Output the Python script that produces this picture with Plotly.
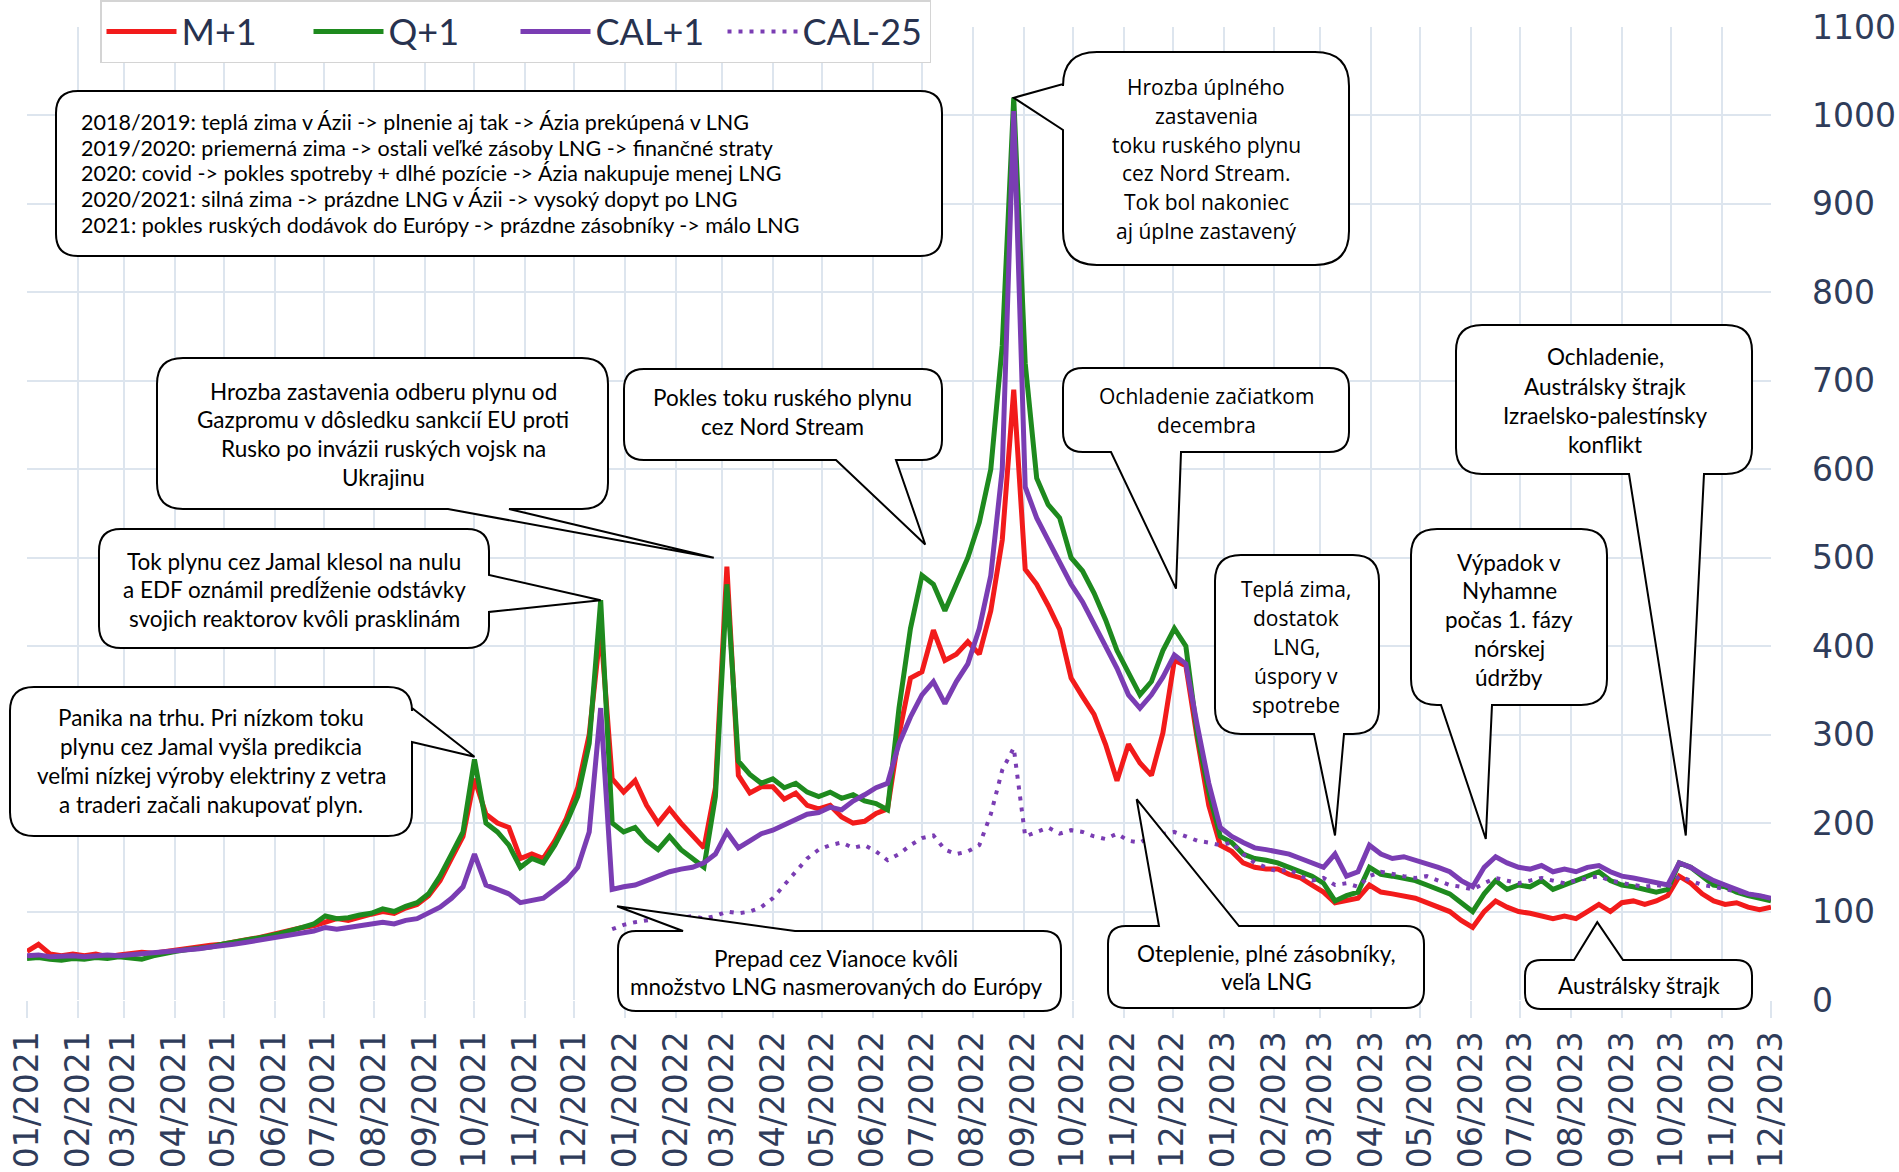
import pandas as pd
import plotly.graph_objects as go

# weekly points, 2021-01-01 .. 2023-12-01
weeks = pd.date_range("2021-01-01", "2023-12-01", freq="7D")

# M+1 (EUR/MWh)
m1 = [55, 63, 52, 50, 52, 50, 52, 49, 51, 52, 54, 53, 55,
      57, 58, 60, 62, 63, 66, 68, 70, 73, 76, 80, 82, 84,
      88, 92, 90, 94, 97, 100, 98, 104, 108, 118, 135, 160, 185,
      250, 210, 200, 195, 160, 165, 160, 180, 205, 240, 300, 420, 250,
      235, 248, 220, 200, 216, 200, 186, 172, 240, 490, 254, 234, 241,
      241, 227, 234, 220, 216, 220, 207, 200, 202, 211, 216, 300, 364,
      371, 418, 384, 391, 405, 391, 440, 520, 690, 487, 470, 446, 419,
      364, 343, 323, 289, 248, 289, 268, 254, 302, 384, 378, 295, 220,
      175, 168, 155, 150, 148, 148, 142, 138, 130, 122, 110, 112, 115, 130,
      122, 120, 118, 115, 110, 105, 100, 90, 82, 100, 112, 105,
      100, 98, 95, 92, 95, 92, 100, 108, 100, 110, 112, 108, 112,
      118, 140, 132, 120, 112, 108, 110, 105, 102, 105]

# Q+1
q1 = [47, 48, 46, 45, 47, 46, 48, 47, 49, 48, 46, 50, 53,
      55, 57, 58, 60, 63, 65, 67, 70, 72, 75, 78, 82, 86,
      95, 92, 93, 96, 98, 103, 100, 106, 110, 120, 140, 165, 190,
      272, 200, 190, 175, 150, 160, 155, 175, 200, 230, 290, 452, 200,
      190, 195, 180, 170, 185, 170, 160, 150, 230, 470, 270, 255, 245,
      250, 240, 245, 235, 230, 235, 228, 232, 225, 222, 215, 330, 420,
      480, 470, 440, 470, 500, 540, 600, 740, 1020, 720, 590, 560, 545,
      500, 485, 460, 430, 395, 370, 345, 360, 395, 420, 400, 300, 235,
      185, 178, 165, 160, 158, 155, 150, 145, 140, 132, 112, 118, 122, 150,
      142, 140, 138, 135, 130, 125, 120, 110, 100, 120, 135, 125,
      130, 128, 135, 125, 130, 135, 140, 145, 135, 130, 128, 125, 122,
      125, 155, 150, 140, 130, 128, 122, 118, 115, 112]

# CAL+1
cal1 = [50, 51, 49, 50, 50, 49, 50, 51, 50, 51, 52, 53, 54,
        55, 57, 58, 60, 61, 63, 65, 67, 70, 72, 74, 76, 78,
        82, 80, 82, 84, 86, 88, 86, 90, 92, 98, 105, 115, 128,
        165, 130, 125, 120, 110, 112, 115, 125, 135, 150, 190, 330, 125,
        128, 130, 135, 140, 145, 148, 150, 155, 165, 190, 172, 180, 188,
        192, 198, 205, 210, 212, 218, 215, 225, 232, 240, 245, 290, 320,
        345, 360, 335, 360, 380, 420, 480, 600, 1005, 580, 545, 520, 495,
        470, 450, 425, 400, 375, 345, 330, 345, 365, 390, 380, 310, 245,
        195, 185, 178, 172, 170, 168, 165, 160, 155, 150, 165, 140, 145, 175,
        165, 160, 162, 158, 155, 150, 145, 135, 128, 150, 162, 155,
        150, 148, 152, 145, 148, 145, 150, 152, 145, 140, 138, 135, 132,
        130, 155, 150, 142, 135, 130, 125, 120, 118, 115]

# CAL-25, from the last week of 2021
cal25_dates = weeks[51:]
cal25 = [80,
         85, 88, 90, 92, 90, 93, 95, 92, 95, 100, 98, 100, 105,
         115, 130, 145, 160, 170, 175, 178, 172, 175, 168, 158, 165, 175,
         183, 186, 170, 165, 168, 175, 210, 260, 285, 185, 190, 195, 188,
         192, 190, 185, 182, 188, 180, 178, 185, 188, 190, 185, 180, 178,
         175, 178, 165, 155, 150, 145, 148, 140, 135, 138, 130, 132, 128, 140,
         145, 142, 140, 138, 140, 135, 130, 128, 125, 132, 138, 135,
         132, 135, 138, 135, 132, 135, 138, 140, 135, 132, 130, 128, 130,
         128, 140, 135, 130, 128, 125, 122, 120, 118, 115]

series = [("M+1", m1, "#f21b1b"),
          ("Q+1", q1, "#1e8a1e"),
          ("CAL+1", cal1, "#7a3db3")]

tick_months = pd.date_range("2021-01-01", "2023-12-01", freq="MS")
tick_text = [d.strftime("%m/%Y") for d in tick_months]

# figure geometry (pixels)
FW, FH = 1899, 1172
ML, MR, MT, MB = 27, 128, 27, 172
PW, PH = FW - ML - MR, FH - MT - MB
X0, X1 = pd.Timestamp("2021-01-01"), pd.Timestamp("2023-12-01")
YMAX = 1100


def to_paper(px, py):
    return (px - ML) / PW, (MT + PH - py) / PH


def data_px(date, val):
    px = ML + (pd.Timestamp(date) - X0) / (X1 - X0) * PW
    py = MT + PH - val / YMAX * PH
    return px, py


def bubble_path(x0, y0, x1, y1, r, tail):
    def P(x, y):
        fx, fy = to_paper(x, y)
        return f"{fx:.5f},{fy:.5f}"
    edge, a, b, tip = tail if tail else (None, 0, 0, None)
    if tip is not None:
        tx, ty = data_px(*tip)
    s = f"M{P(x0 + r, y0)}"
    if edge == "top":
        s += f" L{P(a, y0)} L{P(tx, ty)} L{P(b, y0)}"
    s += f" L{P(x1 - r, y0)} Q{P(x1, y0)} {P(x1, y0 + r)}"
    if edge == "right":
        s += f" L{P(x1, a)} L{P(tx, ty)} L{P(x1, b)}"
    s += f" L{P(x1, y1 - r)} Q{P(x1, y1)} {P(x1 - r, y1)}"
    if edge == "bottom":
        s += f" L{P(b, y1)} L{P(tx, ty)} L{P(a, y1)}"
    s += f" L{P(x0 + r, y1)} Q{P(x0, y1)} {P(x0, y1 - r)}"
    if edge == "left":
        s += f" L{P(x0, b)} L{P(tx, ty)} L{P(x0, a)}"
    s += f" L{P(x0, y0 + r)} Q{P(x0, y0)} {P(x0 + r, y0)} Z"
    return s


CAL = "Lato, Calibri, sans-serif"
SEG = "Open Sans, Segoe UI, sans-serif"

callouts = [
    dict(box=(56, 91, 942, 256), r=22, tail=None, x=79, y=122, dy=25.7, font=CAL, size=21.5, align="left",
         lines=["2018/2019: teplá zima v Ázii -> plnenie aj tak -> Ázia prekúpená v LNG",
                "2019/2020: priemerná zima -> ostali veľké zásoby LNG -> finančné straty",
                "2020: covid -> pokles spotreby + dlhé pozície -> Ázia nakupuje menej LNG",
                "2020/2021: silná zima -> prázdne LNG v Ázii -> vysoký dopyt po LNG",
                "2021: pokles ruských dodávok do Európy -> prázdne zásobníky -> málo LNG"]),
    dict(box=(1063, 52, 1349, 265), r=34, tail=("left", 84, 130, ("2022-08-26", 1020)),
         x=1206, y=87, dy=28.8, font=SEG, size=21,
         lines=["Hrozba úplného", "zastavenia", "toku ruského plynu", "cez Nord Stream.",
                "Tok bol nakoniec", "aj úplne zastavený"]),
    dict(box=(157, 358, 608, 509), r=26, tail=("bottom", 448, 509, ("2022-02-24", 500)),
         x=383, y=391, dy=28.7, font=CAL, size=22.5,
         lines=["Hrozba zastavenia odberu plynu od", "Gazpromu v dôsledku sankcií EU proti",
                "Rusko po invázii ruských vojsk na", "Ukrajinu"]),
    dict(box=(99, 529, 489, 648), r=22, tail=("right", 575, 612, ("2021-12-17", 452)),
         x=294, y=561, dy=28.5, font=CAL, size=22.5,
         lines=["Tok plynu cez Jamal klesol na nulu", "a EDF oznámil predĺženie odstávky",
                "svojich reaktorov kvôli prasklinám"]),
    dict(box=(10, 687, 412, 836), r=24, tail=("right", 708, 742, ("2021-10-01", 275)),
         x=211, y=717, dy=29, font=CAL, size=22.5,
         lines=["Panika na trhu. Pri nízkom toku", "plynu cez Jamal vyšla predikcia",
                "veľmi nízkej výroby elektriny z vetra", "a traderi začali nakupovať plyn."]),
    dict(box=(624, 369, 942, 460), r=20, tail=("bottom", 836, 896, ("2022-07-03", 515)),
         x=782, y=398, dy=29, font=CAL, size=22.5,
         lines=["Pokles toku ruského plynu", "cez Nord Stream"]),
    dict(box=(1063, 368, 1349, 452), r=20, tail=("bottom", 1111, 1181, ("2022-12-03", 465)),
         x=1206, y=396, dy=29, font=SEG, size=21,
         lines=["Ochladenie začiatkom", "decembra"]),
    dict(box=(1215, 555, 1379, 734), r=26, tail=("bottom", 1314, 1344, ("2023-03-10", 186)),
         x=1296, y=589, dy=29, font=SEG, size=21,
         lines=["Teplá zima,", "dostatok", "LNG,", "úspory v", "spotrebe"]),
    dict(box=(1411, 529, 1607, 705), r=26, tail=("bottom", 1441, 1492, ("2023-06-10", 182)),
         x=1509, y=562, dy=28.8, font=CAL, size=22.5,
         lines=["Výpadok v", "Nyhamne", "počas 1. fázy", "nórskej", "údržby"]),
    dict(box=(1456, 325, 1752, 474), r=26, tail=("bottom", 1629, 1704, ("2023-10-10", 186)),
         x=1605, y=357, dy=29, font=CAL, size=22.5,
         lines=["Ochladenie,", "Austrálsky štrajk", "Izraelsko-palestínsky", "konflikt"]),
    dict(box=(618, 931, 1061, 1011), r=18, tail=("top", 683, 795, ("2021-12-27", 106)),
         x=836, y=958, dy=28, font=CAL, size=22.5,
         lines=["Prepad cez Vianoce kvôli", "množstvo LNG nasmerovaných do Európy"]),
    dict(box=(1108, 926, 1424, 1008), r=18, tail=("top", 1159, 1239, ("2022-11-09", 227)),
         x=1266, y=953, dy=28, font=CAL, size=22.5,
         lines=["Oteplenie, plné zásobníky,", "veľa LNG"]),
    dict(box=(1525, 960, 1752, 1009), r=16, tail=("top", 1574, 1623, ("2023-08-17", 88)),
         x=1639, y=985, dy=28, font=CAL, size=22.5,
         lines=["Austrálsky štrajk"]),
]

fig = go.Figure()
for name, vals, color in series:
    fig.add_trace(go.Scatter(x=weeks, y=vals, name=name, mode="lines",
                             line=dict(color=color, width=5)))
fig.add_trace(go.Scatter(x=cal25_dates, y=cal25, name="CAL-25", mode="lines",
                         line=dict(color="#7a3db3", width=4, dash="4px,7px")))

shapes = []
annotations = []
for c in callouts:
    x0, y0, x1, y1 = c["box"]
    shapes.append(dict(type="path", xref="paper", yref="paper",
                       path=bubble_path(x0, y0, x1, y1, c["r"], c["tail"]),
                       line=dict(color="black", width=2), fillcolor="white", layer="above"))
    for i, t in enumerate(c["lines"]):
        fx, fy = to_paper(c["x"], c["y"] + i * c["dy"])
        annotations.append(dict(text=t, xref="paper", yref="paper", x=fx, y=fy,
                                xanchor="left" if c.get("align") == "left" else "center",
                                yanchor="middle", showarrow=False,
                                font=dict(family=c["font"], size=c["size"], color="black")))

axis_font = dict(family="DejaVu Sans, Verdana, sans-serif", size=33, color="#2f3c5a")
grid = "#dde5ee"

fig.update_layout(
    width=FW, height=FH,
    margin=dict(l=ML, r=MR, t=MT, b=MB, autoexpand=False),
    paper_bgcolor="white", plot_bgcolor="white",
    shapes=shapes, annotations=annotations,
    legend=dict(orientation="h", x=(100 - ML) / PW, xanchor="left", y=(MT + PH) / PH, yanchor="top",
                bgcolor="white", bordercolor="#d4d4d4", borderwidth=1.5,
                font=dict(family="Lato, Calibri, sans-serif", size=36, color="#27324f"),
                itemwidth=70, entrywidth=122, entrywidthmode="pixels"),
    xaxis=dict(range=[X0, X1], tickvals=list(tick_months), ticktext=tick_text, tickangle=-90,
               tickfont=axis_font, showgrid=True, gridcolor=grid, gridwidth=2,
               ticks="outside", ticklen=17, tickwidth=2, tickcolor=grid,
               showline=False, zeroline=False),
    yaxis=dict(range=[0, YMAX], dtick=100, side="right", tickfont=axis_font,
               showgrid=True, gridcolor=grid, gridwidth=2, ticklabelstandoff=40,
               showline=False, zeroline=False),
)

fig.write_html("out.html", config={"displayModeBar": False},
               post_script="document.body.style.margin='0';document.body.style.overflow='hidden';")
